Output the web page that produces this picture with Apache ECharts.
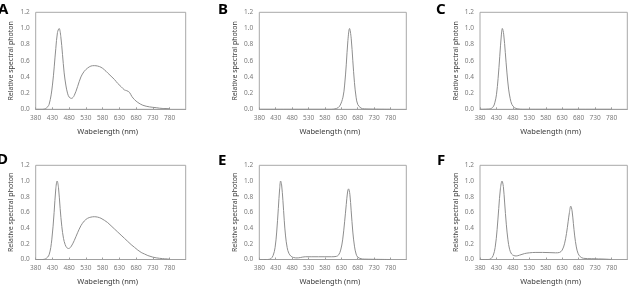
<!DOCTYPE html>
<html>
<head>
<meta charset="utf-8">
<script src="https://cdn.jsdelivr.net/npm/echarts@6/dist/echarts.min.js"></script>
<style>
html,body{margin:0;padding:0;background:#fff;}
#c{width:637px;height:287px;}
</style>
</head>
<body>
<div id="c"></div>
<script>
// ---- data (wavelength nm, relative spectral photon) ----
const panelLetters = ['A','B','C','D','E','F'];
const xAxisName = 'Wabelength (nm)';
const yAxisName = 'Relative spectral photon';

const waveA = [380,400,410,420,430,440,445,450,455,460,465,470,475,480,487,495,505,515,525,535,545,555,565,575,585,595,605,615,625,635,645,652,660,667,675,685,700,720,740,760,780];
const specA = [0,0,0.01,0.06,0.3,0.75,0.95,1.0,0.9,0.68,0.45,0.3,0.2,0.15,0.135,0.17,0.28,0.4,0.47,0.51,0.535,0.54,0.535,0.52,0.49,0.45,0.41,0.37,0.32,0.28,0.24,0.23,0.21,0.16,0.12,0.085,0.05,0.03,0.02,0.01,0.01];

const waveB = [380,500,600,615,625,635,640,645,650,655,660,665,670,675,680,690,700,780];
const specB = [0,0,0,0.01,0.04,0.15,0.3,0.55,0.85,1.0,0.88,0.6,0.33,0.15,0.06,0.015,0.005,0];

const waveC = [380,410,420,425,430,435,440,445,448,452,457,462,467,472,477,485,495,510,780];
const specC = [0,0.005,0.03,0.08,0.18,0.38,0.65,0.92,1.0,0.93,0.7,0.45,0.25,0.13,0.06,0.02,0.005,0,0];

const waveD = [380,400,410,420,428,435,440,444,448,453,458,463,468,473,478,485,495,505,515,525,535,545,555,565,575,585,595,605,615,625,635,645,655,665,675,685,695,705,715,730,750,780];
const specD = [0,0,0.01,0.06,0.25,0.6,0.9,1.0,0.92,0.65,0.42,0.27,0.19,0.15,0.14,0.16,0.24,0.34,0.43,0.49,0.525,0.54,0.545,0.54,0.525,0.5,0.47,0.43,0.39,0.35,0.31,0.27,0.23,0.19,0.155,0.12,0.09,0.07,0.05,0.03,0.015,0.005];

const waveE = [380,405,415,422,428,433,438,442,445,448,452,456,460,465,470,477,485,495,505,520,540,560,580,600,615,622,628,634,640,645,649,652,656,660,665,670,675,680,690,700,780];
const specE = [0,0,0.01,0.05,0.15,0.35,0.65,0.9,1.0,0.95,0.75,0.5,0.3,0.15,0.08,0.04,0.025,0.02,0.025,0.035,0.035,0.035,0.035,0.035,0.04,0.06,0.12,0.25,0.48,0.7,0.86,0.9,0.83,0.62,0.35,0.17,0.07,0.03,0.01,0.005,0];

const waveF = [380,405,413,420,426,432,437,442,447,451,455,460,465,470,476,483,490,500,515,530,550,570,590,610,622,630,637,643,648,652,656,660,664,668,673,678,685,695,720,760,780];
const specF = [0,0,0.01,0.05,0.15,0.38,0.65,0.9,1.0,0.93,0.72,0.45,0.25,0.13,0.07,0.05,0.045,0.055,0.075,0.085,0.09,0.09,0.088,0.085,0.09,0.12,0.2,0.33,0.48,0.6,0.68,0.62,0.46,0.3,0.16,0.08,0.035,0.015,0.01,0.005,0];

const waves = [waveA,waveB,waveC,waveD,waveE,waveF];
const specs = [specA,specB,specC,specD,specE,specF];

// ---- layout ----
const grids = [
  {left:35.7, top:12.3, width:150, height:97},
  {left:259.3, top:12.3, width:147, height:97},
  {left:480, top:12.3, width:147.3, height:97},
  {left:35.7, top:165.3, width:150, height:96},
  {left:259.3, top:165.3, width:147, height:96},
  {left:480, top:165.3, width:147.3, height:96}
];
const letterPos = [[-2,10],[218,10],[436,10],[-3,160],[218,161],[437,161]];

const FONT = 'Noto Sans';
const option = {
  animation:false,
  grid: grids.map(g => Object.assign({show:true, borderColor:'#a8a8a8', borderWidth:1, containLabel:false}, g)),
  xAxis: grids.map((g,i) => ({
    gridIndex:i, type:'value', min:380, max:828, interval:50,
    name:xAxisName, nameLocation:'middle', nameGap:18.5,
    nameTextStyle:{fontFamily:FONT, fontSize:7.5, color:'#3a3a3a', padding:[0,6,0,0]},
    axisLine:{show:true, lineStyle:{color:'#a0a0a0', width:1}},
    axisTick:{show:true, inside:true, length:2, lineStyle:{color:'#a0a0a0'}},
    splitLine:{show:false},
    axisLabel:{fontFamily:FONT, fontSize:6.5, color:'#7a7a7a', margin:5, showMaxLabel:false,
      formatter: v => (v <= 780 && (v-380)%50===0) ? String(v) : ''}
  })),
  yAxis: grids.map((g,i) => ({
    gridIndex:i, type:'value', min:0, max:1.2, interval:0.2,
    name:yAxisName, nameLocation:'middle', nameGap:21, nameRotate:90,
    nameTextStyle:{fontFamily:FONT, fontSize:7, color:'#3a3a3a'},
    axisLine:{show:false}, axisTick:{show:false}, splitLine:{show:false},
    axisLabel:{fontFamily:FONT, fontSize:6.5, color:'#7a7a7a', margin:6,
      formatter: v => v.toFixed(1)}
  })),
  series: specs.map((s,i) => ({
    type:'line', xAxisIndex:i, yAxisIndex:i, showSymbol:false, smooth:0.35,
    lineStyle:{color:'#8e8e8e', width:1},
    data: waves[i].map((w,j) => [w, s[j]])
  })),
  graphic: panelLetters.map((t,i) => ({
    type:'text', left:letterPos[i][0], top:letterPos[i][1]-8,
    style:{text:t, font:'bold 15px "Noto Sans"', fill:'#000'}
  }))
};
const chart = echarts.init(document.getElementById('c'), null, {renderer:'canvas'});
chart.setOption(option);
</script>
</body>
</html>
